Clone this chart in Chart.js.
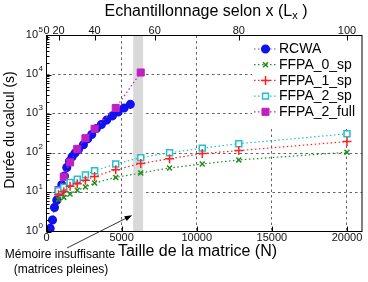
<!DOCTYPE html>
<html>
<head>
<meta charset="utf-8">
<script src="https://cdn.jsdelivr.net/npm/chart.js@4.4.0/dist/chart.umd.min.js"></script>
<style>
html, body { margin: 0; padding: 0; background: #fff; }
canvas { display: block; }
</style>
</head>
<body>
<canvas id="myChart" width="368" height="282"></canvas>
<script>
// values
var rcwaN = [246, 399, 532, 684, 910, 1017, 1196, 1349, 1528, 1700, 1900, 2126, 2458, 2744, 3010, 3322, 3654, 4007, 4385, 4764, 5163, 5581];
var rcwaT = [1.2, 1.97, 4.1, 6.3, 10.5, 15.6, 26, 43, 62, 80, 100, 123, 163, 231, 297, 425, 537, 695, 890, 1120, 1410, 1750];

var ffpaN = [800, 1152, 1568, 2048, 2592, 3200, 4608, 6272, 8192, 10368, 12800, 20000];
var ffpa0T = [6.6, 7.4, 9.0, 11.3, 13.6, 17.2, 24, 31, 41.7, 52.7, 67, 105];
var ffpa1T = [8.6, 10.3, 14.3, 16.5, 20.3, 25.4, 37.8, 54, 72, 97, 116, 197];
var ffpa2T = [11, 13.4, 17.8, 21.5, 27.8, 35.5, 52.7, 76.7, 102, 134, 174, 310];

var fullN = [800, 1152, 1568, 2048, 2592, 3200, 4608, 6272];
var fullT = [11.4, 25, 58, 128, 240, 417, 1415, 11380];

var xTicks = [0, 5000, 10000, 15000, 20000];
var yTicks = [1, 10, 100, 1000, 10000, 100000];
var topTickN = [0, 800, 3200, 7200, 12800, 20000];
var topTickLabels = ['0', '20', '40', '60', '80', '100'];

var bandN = [5770, 6430];      // "mémoire insuffisante" zone
var arrowAt = [5700, 2.6];     // arrow tip

var font = "'Liberation Sans', Arial, sans-serif";

function pts(xs, ys) {
  return xs.map(function (x, i) { return { x: x, y: ys[i] }; });
}

function series(label, xs, ys, color, style, radius, fill) {
  return {
    label: label,
    data: pts(xs, ys),
    showLine: true,
    borderColor: color,
    borderWidth: 1.2,
    borderDash: [1.5, 2.5],
    pointStyle: style,
    pointRadius: radius,
    pointBorderWidth: 1.5,
    pointBorderColor: color,
    pointBackgroundColor: fill,
    tension: 0,
    order: 0
  };
}

var datasets = [
  series('RCWA', rcwaN, rcwaT, '#1010f0', 'circle', 3.8, '#1010f0'),
  series('FFPA_0_sp', ffpaN, ffpa0T, '#1f8f1f', 'crossRot', 3.5, '#1f8f1f'),
  series('FFPA_1_sp', ffpaN, ffpa1T, '#ff2020', 'cross', 4.5, '#ff2020'),
  series('FFPA_2_sp', ffpaN, ffpa2T, '#22c0cc', 'rect', 4.2, '#ffffff'),
  series('FFPA_2_full', fullN, fullT, '#c020c0', 'rect', 5, '#c020c0')
];
datasets[0].borderColor = '#5050ff';
datasets[0].order = 1;          // blue dots under the magenta squares
datasets[4].pointBorderWidth = 1;

function marker(ctx, ds, x, y) {
  ctx.save();
  ctx.setLineDash([]);
  ctx.fillStyle = ds.pointBackgroundColor;
  ctx.strokeStyle = ds.pointBorderColor;
  ctx.lineWidth = ds.pointBorderWidth;
  Chart.helpers.drawPoint(ctx, { pointStyle: ds.pointStyle, radius: ds.pointRadius, rotation: 0, borderWidth: ds.pointBorderWidth }, x, y);
  ctx.restore();
}

var decor = {
  id: 'decor',
  beforeDatasetsDraw: function (chart) {
    var ctx = chart.ctx, a = chart.chartArea, x = chart.scales.x;
    var x0 = x.getPixelForValue(bandN[0]), x1 = x.getPixelForValue(bandN[1]);
    ctx.save();
    ctx.fillStyle = '#d9d9d9';
    ctx.fillRect(x0, a.top, x1 - x0, a.bottom - a.top);
    ctx.restore();
  },
  afterDraw: function (chart) {
    var ctx = chart.ctx, a = chart.chartArea, x = chart.scales.x, y = chart.scales.y;
    ctx.save();

    // legend
    ctx.fillStyle = '#fff';
    ctx.fillRect(252, a.top + 0.5, a.right - 252, 90);
    chart.data.datasets.forEach(function (ds, i) {
      var ly = 49 + i * 15.7;
      ctx.strokeStyle = ds.borderColor;
      ctx.lineWidth = ds.borderWidth;
      ctx.setLineDash(ds.borderDash);
      ctx.beginPath();
      ctx.moveTo(254, ly);
      ctx.lineTo(277, ly);
      ctx.stroke();
      marker(ctx, ds, 265.5, ly);
      ctx.fillStyle = '#000';
      ctx.font = '14px ' + font;
      ctx.textAlign = 'left';
      ctx.textBaseline = 'middle';
      ctx.fillText(ds.label, 279, ly + 0.5);
    });

    // frame
    ctx.setLineDash([]);
    ctx.strokeStyle = '#000';
    ctx.lineWidth = 1;
    ctx.strokeRect(a.left, a.top, a.right - a.left, a.bottom - a.top);

    // ticks, pointing inwards
    ctx.beginPath();
    for (var k = 0; k < 5; k++) {
      for (var m = 1; m < 10; m++) {
        var py = Math.round(y.getPixelForValue(m * Math.pow(10, k))) + 0.5;
        ctx.moveTo(a.left, py);
        ctx.lineTo(a.left + (m === 1 ? 5 : 3), py);
      }
    }
    xTicks.forEach(function (v) {
      var px = Math.round(x.getPixelForValue(v)) + 0.5;
      ctx.moveTo(px, a.bottom);
      ctx.lineTo(px, a.bottom - 5);
    });
    topTickN.forEach(function (v) {
      var px = Math.round(x.getPixelForValue(v)) + 0.5;
      ctx.moveTo(px, a.top);
      ctx.lineTo(px, a.top + 5);
    });
    ctx.stroke();

    // y tick labels 10^n
    ctx.fillStyle = '#111';
    ctx.textBaseline = 'middle';
    yTicks.forEach(function (v) {
      var py = y.getPixelForValue(v) - 1;
      ctx.font = '11px ' + font;
      ctx.textAlign = 'right';
      ctx.fillText('10', 38, py);
      ctx.font = '8px ' + font;
      ctx.textAlign = 'left';
      ctx.fillText(String(Math.round(Math.log10(v))), 38.5, py - 5);
    });

    // axis titles
    ctx.fillStyle = '#000';
    ctx.textAlign = 'center';
    ctx.font = '16px ' + font;
    ctx.fillText('Taille de la matrice (N)', 197.5, 252);

    ctx.save();
    ctx.translate(10, 130);
    ctx.rotate(-Math.PI / 2);
    ctx.font = '14px ' + font;
    ctx.fillText('Durée du calcul (s)', 0, 0);
    ctx.restore();

    // top title with subscript
    var t1 = 'Echantillonnage selon x (L', t2 = 'x', t3 = ' )';
    ctx.font = '16px ' + font;
    var w1 = ctx.measureText(t1).width, w3 = ctx.measureText(t3).width;
    ctx.font = '11px ' + font;
    var w2 = ctx.measureText(t2).width;
    var sx = 206 - (w1 + w2 + w3) / 2;
    ctx.textAlign = 'left';
    ctx.font = '16px ' + font;
    ctx.fillText(t1, sx, 12);
    ctx.font = '11px ' + font;
    ctx.fillText(t2, sx + w1, 16);
    ctx.font = '16px ' + font;
    ctx.fillText(t3, sx + w1 + w2, 12);

    // annotation
    ctx.textAlign = 'center';
    ctx.font = '12px ' + font;
    ctx.fillText('Mémoire insuffisante', 60, 255);
    ctx.fillText('(matrices pleines)', 61, 270);

    var tx = x.getPixelForValue(arrowAt[0]), ty = y.getPixelForValue(arrowAt[1]);
    var sx0 = 67, sy0 = 248;
    var ang = Math.atan2(ty - sy0, tx - sx0);
    ctx.strokeStyle = '#000';
    ctx.lineWidth = 0.8;
    ctx.beginPath();
    ctx.moveTo(sx0, sy0);
    ctx.lineTo(tx - 6 * Math.cos(ang), ty - 6 * Math.sin(ang));
    ctx.stroke();
    ctx.fillStyle = '#000';
    ctx.beginPath();
    ctx.moveTo(tx, ty);
    ctx.lineTo(tx - 8 * Math.cos(ang - 0.35), ty - 8 * Math.sin(ang - 0.35));
    ctx.lineTo(tx - 8 * Math.cos(ang + 0.35), ty - 8 * Math.sin(ang + 0.35));
    ctx.closePath();
    ctx.fill();

    ctx.restore();
  }
};

var gridStyle = {
  color: '#3a3a3a',
  lineWidth: 0.8,
  drawTicks: false
};

new Chart(document.getElementById('myChart'), {
  type: 'scatter',
  data: { datasets: datasets },
  options: {
    responsive: false,
    animation: false,
    devicePixelRatio: 1,
    layout: { padding: { left: 0, right: 5.5, top: 0, bottom: 0 } },
    plugins: {
      legend: { display: false },
      tooltip: { enabled: false }
    },
    scales: {
      x: {
        type: 'linear',
        position: 'bottom',
        min: 0,
        max: 21000,
        afterBuildTicks: function (s) { s.ticks = xTicks.map(function (v) { return { value: v }; }); },
        afterFit: function (s) { s.height = 50.5; },
        grid: gridStyle,
        border: { display: false, dash: [2.5, 3] },
        ticks: {
          font: { family: font, size: 11 }, color: '#111', padding: 0, maxRotation: 0, autoSkip: false,
          callback: function (v) { return String(v); }
        }
      },
      x2: {
        type: 'linear',
        axis: 'x',
        position: 'top',
        min: 0,
        max: 21000,
        afterBuildTicks: function (s) { s.ticks = topTickN.map(function (v) { return { value: v }; }); },
        afterFit: function (s) { s.height = 35.5; },
        grid: { display: false, drawTicks: false },
        border: { display: false },
        ticks: {
          font: { family: font, size: 11 }, color: '#111', padding: -2, maxRotation: 0, autoSkip: false,
          callback: function (v, i) { return topTickLabels[i]; }
        }
      },
      y: {
        type: 'logarithmic',
        min: 1,
        max: 100000,
        afterBuildTicks: function (s) { s.ticks = yTicks.map(function (v) { return { value: v }; }); },
        afterFit: function (s) { s.width = 46.5; },
        grid: gridStyle,
        border: { display: false, dash: [2.5, 3] },
        ticks: { display: false }
      }
    }
  },
  plugins: [decor]
});
</script>
</body>
</html>
